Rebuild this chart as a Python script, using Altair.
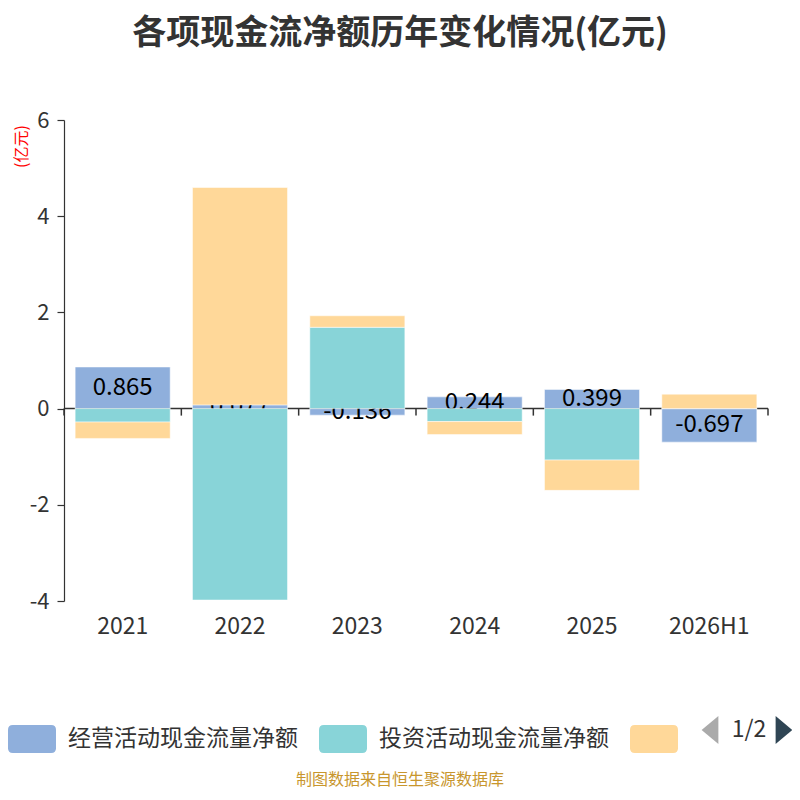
import altair as alt
import pandas as pd

years = ["2021", "2022", "2023", "2024", "2025", "2026H1"]
series_names = ["经营活动现金流量净额", "投资活动现金流量净额", "筹资活动现金流量净额"]
operating = [0.865, 0.077, -0.136, 0.244, 0.399, -0.697]
investing = [-0.28, -3.98, 1.69, -0.27, -1.07, 0.0]
financing = [-0.34, 4.52, 0.24, -0.27, -0.63, 0.30]
colors = ["#8FAFDC", "#88D4D8", "#FFD899"]
y_ticks = [-4, -2, 0, 2, 4, 6]
title_text = "各项现金流净额历年变化情况(亿元)"
unit_text = "(亿元)"
footer_text = "制图数据来自恒生聚源数据库"
pager_text = "1/2"

rows = []
for si, (name, vals) in enumerate(zip(series_names, [operating, investing, financing])):
    for yr, v in zip(years, vals):
        rows.append({"year": yr, "series": name, "value": v, "order": si})
df = pd.DataFrame(rows)
df_years = pd.DataFrame({"year": years})

FONT = "Noto Sans CJK SC"

x_scale = alt.Scale(domain=years, paddingInner=0, paddingOuter=0)
x_axis = alt.Axis(title=None, domain=False, ticks=False, grid=False, labelAngle=0,
                  labelPadding=14, labelFontSize=23, labelColor="#333333", labelFont=FONT)
y_scale = alt.Scale(domain=[-4, 6], nice=False, zero=False)
y_axis = alt.Axis(values=y_ticks, title=unit_text, titleColor="#FF0000", titleFont=FONT,
                  titleFontSize=16, titleFontWeight="normal", titleAngle=270,
                  titleX=-43, titleY=26, titleAlign="center", titleBaseline="middle",
                  domainColor="#333333", domainWidth=1.2, tickColor="#333333", tickSize=7,
                  tickWidth=1.2, labelFontSize=22, labelColor="#333333", labelFont=FONT,
                  labelPadding=8, gridColor="#cccccc", gridWidth=1,
                  labelExpr="datum.value + ''")

rr = "M-0.8,-0.58 L0.8,-0.58 Q1,-0.58 1,-0.38 L1,0.38 Q1,0.58 0.8,0.58 L-0.8,0.58 Q-1,0.58 -1,0.38 L-1,-0.38 Q-1,-0.58 -0.8,-0.58 Z"
legend = alt.Legend(title=None, orient="none", legendX=-56, legendY=595, direction="horizontal",
                    symbolType=rr, symbolSize=2304, symbolStrokeWidth=0, symbolOpacity=1,
                    labelFont=FONT, labelFontSize=23, labelColor="#333333", labelLimit=400,
                    labelOffset=12, columnPadding=21,
                    labelExpr="datum.label == '" + series_names[2] + "' ? '' : datum.label")
color_scale = alt.Scale(domain=series_names, range=colors)


def X(**kw):
    return alt.X("year:N", sort=years, scale=x_scale, axis=x_axis, **kw)


def stacked():
    return alt.Chart(df).transform_stack(
        stack="value", groupby=["year"], as_=["v0", "v1"],
        sort=[alt.SortField("order", order="ascending")], offset="zero")


zero_line = alt.Chart(alt.Data(values=[{}])).mark_rule(color="#333333", strokeWidth=1.5).encode(
    y=alt.YDatum(0, type="quantitative", scale=y_scale, axis=y_axis))

ticks = alt.Chart(df_years).mark_rule(color="#333333", strokeWidth=1.5, y2Offset=7).encode(
    x=X(bandPosition=0),
    y=alt.YDatum(0, type="quantitative", scale=y_scale, axis=y_axis),
    y2=alt.Y2Datum(0))
ticks_last = alt.Chart(df_years).transform_filter(alt.datum.year == years[-1]).mark_rule(
    color="#333333", strokeWidth=1.5, y2Offset=7).encode(
    x=X(bandPosition=1),
    y=alt.YDatum(0, type="quantitative", scale=y_scale, axis=y_axis),
    y2=alt.Y2Datum(0))

bar_kw = dict(width=alt.RelativeBandSize(0.81), stroke="white", strokeWidth=1, strokeOpacity=0.5)

blue_bars = stacked().transform_filter(alt.datum.order == 0).mark_bar(**bar_kw).encode(
    x=X(),
    y=alt.Y("v0:Q", scale=y_scale, axis=y_axis),
    y2="v1:Q",
    color=alt.Color("series:N", scale=color_scale, legend=legend))

blue_text = stacked().transform_filter(alt.datum.order == 0).transform_calculate(
    mid="(datum.v0 + datum.v1) / 2",
    label="replace(format(datum.value, '.3f'), '\u2212', '-')").mark_text(
    font=FONT, fontSize=24, color="#000000", baseline="middle").encode(
    x=X(),
    y=alt.Y("mid:Q", scale=y_scale, axis=y_axis),
    text=alt.Text("label:N"))

other_bars = stacked().transform_filter(alt.datum.order > 0).mark_bar(**bar_kw).encode(
    x=X(),
    y=alt.Y("v0:Q", scale=y_scale, axis=y_axis),
    y2="v1:Q",
    color=alt.Color("series:N", scale=color_scale, legend=legend))

one = alt.Data(values=[{}])
footer = alt.Chart(one).mark_text(text=footer_text, font=FONT, fontSize=16, color="#C8962D",
                                  baseline="middle", align="center").encode(
    x=alt.value(336), y=alt.value(660))
pager = alt.Chart(one).mark_text(text=pager_text, font=FONT, fontSize=23, color="#333333",
                                 baseline="middle", align="center").encode(
    x=alt.value(685), y=alt.value(610))
tri_l = alt.Chart(one).mark_point(shape="M0.6,-1 L0.6,1 L-0.6,0 Z", filled=True, size=784,
                                  color="#AAAAAA", opacity=1, strokeWidth=0).encode(
    x=alt.value(646), y=alt.value(610))
tri_r = alt.Chart(one).mark_point(shape="M-0.6,-1 L-0.6,1 L0.6,0 Z", filled=True, size=784,
                                  color="#2F4554", opacity=1, strokeWidth=0).encode(
    x=alt.value(720), y=alt.value(610))

chart = alt.layer(zero_line, ticks, ticks_last, blue_bars, blue_text, other_bars,
                  footer, pager, tri_l, tri_r).properties(
    title=alt.TitleParams(title_text, anchor="middle", font=FONT, fontSize=34, fontWeight="bold",
                          color="#333333", offset=58, dx=-16),
    width=704, height=481,
    autosize=alt.AutoSizeParams(type="none"),
    padding={"left": 56, "top": 112, "right": 24, "bottom": 191},
    background="white",
).configure_view(stroke=None)

chart.save("out.html", embed_options={"renderer": "svg", "actions": False})
